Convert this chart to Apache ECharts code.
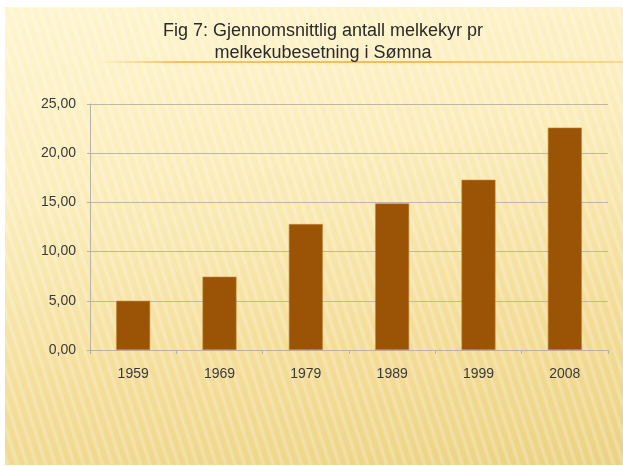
<!DOCTYPE html>
<html>
<head>
<meta charset="utf-8">
<script src="https://cdn.jsdelivr.net/npm/echarts@6/dist/echarts.min.js"></script>
<style>
  html, body { margin: 0; padding: 0; background: #fff; }
  #chart {
    position: absolute;
    left: 5px; top: 7px;
    width: 618px; height: 458px;
    background:
      repeating-linear-gradient(72deg, rgba(255,255,255,0) 0px, rgba(255,255,255,0.28) 3px, rgba(255,255,255,0) 6px, rgba(0,0,0,0) 9px),
      linear-gradient(170deg, #fef5cf 0%, #fbedbb 35%, #f4dd98 70%, #ebd282 100%);
  }
</style>
</head>
<body>
<div id="chart"></div>
<script>
// values
const years = ["1959", "1969", "1979", "1989", "1999", "2008"];
const avgCows = [5.0, 7.45, 12.8, 14.9, 17.3, 22.6];
const titleLines = ["Fig 7: Gjennomsnittlig antall melkekyr pr", "melkekubesetning i Sømna"];

const chart = echarts.init(document.getElementById("chart"));
const options = {
  backgroundColor: "transparent",
  animation: false,
  title: {
    text: titleLines.join("\n"),
    left: 313,
    top: 8,
    textAlign: "center",
    textStyle: {
      fontFamily: "Liberation Sans, sans-serif",
      fontWeight: "normal",
      fontSize: 18,
      lineHeight: 22,
      color: "#2a2a2a"
    }
  },
  graphic: [
    {
      type: "line",
      shape: { x1: 95, y1: 55, x2: 618, y2: 55 },
      style: {
        lineWidth: 2,
        stroke: {
          type: "linear", x: 0, y: 0, x2: 1, y2: 0,
          colorStops: [
            { offset: 0, color: "rgba(245,190,90,0)" },
            { offset: 0.15, color: "rgba(242,180,80,0.8)" },
            { offset: 0.6, color: "rgba(242,180,80,0.9)" },
            { offset: 1, color: "rgba(245,195,100,0.5)" }
          ]
        }
      }
    }
  ],
  grid: {
    left: 85,
    right: 15,
    top: 97,
    bottom: 115
  },
  xAxis: {
    type: "category",
    data: years,
    axisLine: { lineStyle: { color: "#b9b3a3" } },
    axisTick: { show: true, length: 4, lineStyle: { color: "#b9b3a3" } },
    axisLabel: {
      margin: 17,
      fontFamily: "Liberation Sans, sans-serif",
      fontSize: 14,
      color: "#3a3a3a"
    }
  },
  yAxis: {
    type: "value",
    min: 0,
    max: 25,
    interval: 5,
    axisLine: { show: true, lineStyle: { color: "#b9b3a3" } },
    axisTick: { show: true, length: 3, lineStyle: { color: "#b9b3a3" } },
    splitLine: { lineStyle: { color: "#bfb8a6" } },
    axisLabel: {
      margin: 14,
      fontFamily: "Liberation Sans, sans-serif",
      fontSize: 14,
      color: "#3a3a3a",
      formatter: v => v.toFixed(2).replace(".", ",")
    }
  },
  series: [
    {
      type: "bar",
      data: avgCows,
      barWidth: 34,
      itemStyle: {
        color: "#9b5406",
        borderColor: "#c08a3c",
        borderWidth: 0.6
      }
    }
  ]
};
chart.setOption(options);
</script>
</body>
</html>
